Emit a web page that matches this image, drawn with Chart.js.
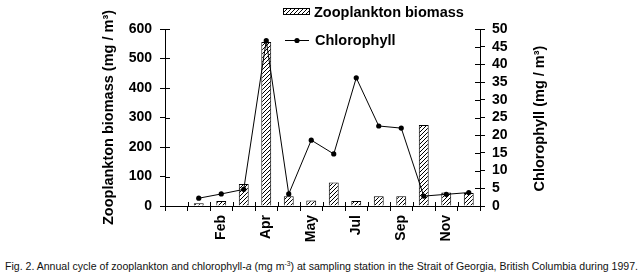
<!DOCTYPE html>
<html>
<head>
<meta charset="utf-8">
<script src="https://cdn.jsdelivr.net/npm/chart.js@4/dist/chart.umd.min.js"></script>
<style>
  html, body { margin: 0; padding: 0; background: #fff; }
  #wrap { position: relative; width: 642px; height: 279px; overflow: hidden; }
  #c { position: absolute; left: 0; top: 0; }
  #cap { position: absolute; left: 5px; top: 260px; white-space: nowrap;
         font-family: "Liberation Sans Narrow", "Arial Narrow", "Liberation Sans", Arial, sans-serif;
         font-size: 11px; line-height: 13px; color: #111; transform-origin: 0 0; }
  #cap sup { font-size: 7px; vertical-align: 4px; line-height: 0; }
</style>
</head>
<body>
<div id="wrap">
  <canvas id="c" width="642" height="250"></canvas>
  <div id="cap">Fig. 2. Annual cycle of zooplankton and chlorophyll-<i>a</i> (mg m<sup>-3</sup>) at sampling station in the Strait of Georgia, British Columbia during 1997.</div>
</div>
<script>
// ---- data ----
const months = ["", "", "Feb", "", "Apr", "", "May", "", "Jul", "", "Sep", "", "Nov", ""];
const zooplanktonBiomass = [null, 9, 17, 75, 556, 33, 19, 80, 17, 33, 33, 275, 46, 44];
const chlorophyll = [null, 2.2, 3.4, 4.7, 46.7, 3.4, 18.6, 14.7, 36.2, 22.6, 22.0, 2.8, 3.3, 3.8];
const zooAxis = [0, 600, 100];   // min, max, step
const chlAxis = [0, 50, 5];      // min, max, step
const seriesNames = ["Zooplankton biomass", "Chlorophyll"];
const axisTitles = ["Zooplankton biomass (mg / m³)", "Chlorophyll (mg / m³)"];

const FONT = '"Liberation Sans", Arial, sans-serif';

function hatch() {
  const t = document.createElement('canvas');
  t.width = 4; t.height = 4;
  const g = t.getContext('2d');
  g.fillStyle = '#fff'; g.fillRect(0, 0, 4, 4);
  g.strokeStyle = '#000'; g.lineWidth = 1;
  g.beginPath();
  g.moveTo(0, 4); g.lineTo(4, 0);
  g.moveTo(-1, 1); g.lineTo(1, -1);
  g.moveTo(3, 5); g.lineTo(5, 3);
  g.stroke();
  return document.getElementById('c').getContext('2d').createPattern(t, 'repeat');
}
const pat = hatch();

const extras = {
  id: 'extras',
  afterDraw(chart) {
    const ctx = chart.ctx;
    const a = chart.chartArea;
    const x = chart.scales.x, y = chart.scales.y, y1 = chart.scales.y1;
    ctx.save();
    ctx.strokeStyle = '#000'; ctx.lineWidth = 1;
    ctx.beginPath();
    // inner tick halves
    y.ticks.forEach(t => { const p = Math.round(y.getPixelForValue(t.value)) + 0.5; ctx.moveTo(a.left, p); ctx.lineTo(a.left + 5, p); });
    y1.ticks.forEach(t => { const p = Math.round(y1.getPixelForValue(t.value)) + 0.5; ctx.moveTo(a.right, p); ctx.lineTo(a.right - 5, p); });
    for (let i = 0; i <= months.length; i++) {
      const p = Math.round(x.getPixelForValue(i - 0.5)) + 0.5;
      ctx.moveTo(p, a.bottom); ctx.lineTo(p, a.bottom - 4);
    }
    ctx.stroke();

    // axis titles
    ctx.fillStyle = '#000';
    ctx.font = 'bold 14.5px ' + FONT;
    ctx.textAlign = 'center'; ctx.textBaseline = 'middle';
    ctx.save(); ctx.translate(109, (a.top + a.bottom) / 2); ctx.rotate(-Math.PI / 2);
    ctx.fillText(axisTitles[0], 0, 0); ctx.restore();
    ctx.save(); ctx.translate(540, (a.top + a.bottom) / 2 + 1); ctx.rotate(-Math.PI / 2);
    ctx.fillText(axisTitles[1], 0, 0); ctx.restore();

    // legend
    ctx.fillStyle = pat;
    ctx.fillRect(283, 8, 27, 7);
    ctx.strokeRect(283.5, 8.5, 26, 6);
    ctx.fillStyle = '#000';
    ctx.textAlign = 'left';
    ctx.fillText(seriesNames[0], 314, 12.5);
    ctx.beginPath(); ctx.moveTo(285, 40.5); ctx.lineTo(309, 40.5); ctx.stroke();
    ctx.beginPath(); ctx.arc(297, 40.5, 2.6, 0, Math.PI * 2); ctx.fill();
    ctx.fillText(seriesNames[1], 315, 40.5);
    ctx.restore();
  }
};

new Chart(document.getElementById('c'), {
  type: 'bar',
  data: {
    labels: months,
    datasets: [
      { type: 'line', label: seriesNames[1], data: chlorophyll, yAxisID: 'y1', order: 0,
        borderColor: '#000', borderWidth: 1, pointRadius: 2.6, pointBackgroundColor: '#000',
        pointBorderColor: '#000', pointBorderWidth: 0, tension: 0, spanGaps: true, fill: false },
      { type: 'bar', label: seriesNames[0], data: zooplanktonBiomass, yAxisID: 'y', order: 1,
        backgroundColor: pat, borderColor: '#000', borderWidth: 1,
        categoryPercentage: 1, barPercentage: 0.44 }
    ]
  },
  options: {
    responsive: false, animation: false,
    layout: { padding: { left: 0, right: 0, top: 29, bottom: 0 } },
    plugins: { legend: { display: false }, tooltip: { enabled: false } },
    scales: {
      x: {
        afterFit(s) { s.height = 44; },
        grid: { display: true, drawOnChartArea: false, offset: true, tickLength: 5, color: '#000', tickColor: '#000' },
        border: { display: true, color: '#000', width: 1 },
        ticks: { autoSkip: false, minRotation: 90, maxRotation: 90, padding: 4, color: '#000',
                 font: { family: FONT, size: 14, weight: 'bold' } }
      },
      y: {
        position: 'left', min: zooAxis[0], max: zooAxis[1],
        afterFit(s) { s.width = 165; },
        grid: { drawOnChartArea: false, tickLength: 5, color: '#000', tickColor: '#000' },
        border: { display: true, color: '#000', width: 1 },
        ticks: { autoSkip: false, stepSize: zooAxis[2], padding: 8, color: '#000', font: { family: FONT, size: 14, weight: 'bold' } }
      },
      y1: {
        position: 'right', min: chlAxis[0], max: chlAxis[1],
        afterFit(s) { s.width = 162; },
        grid: { drawOnChartArea: false, tickLength: 5, color: '#000', tickColor: '#000' },
        border: { display: true, color: '#000', width: 1 },
        ticks: { autoSkip: false, stepSize: chlAxis[2], padding: 7, color: '#000', font: { family: FONT, size: 14, weight: 'bold' } }
      }
    }
  },
  plugins: [extras]
});

// fit caption width to reference span
(function () {
  const cap = document.getElementById('cap');
  const w = cap.getBoundingClientRect().width;
  cap.style.transform = 'scaleX(' + (633 / w) + ')';
})();
</script>
</body>
</html>
